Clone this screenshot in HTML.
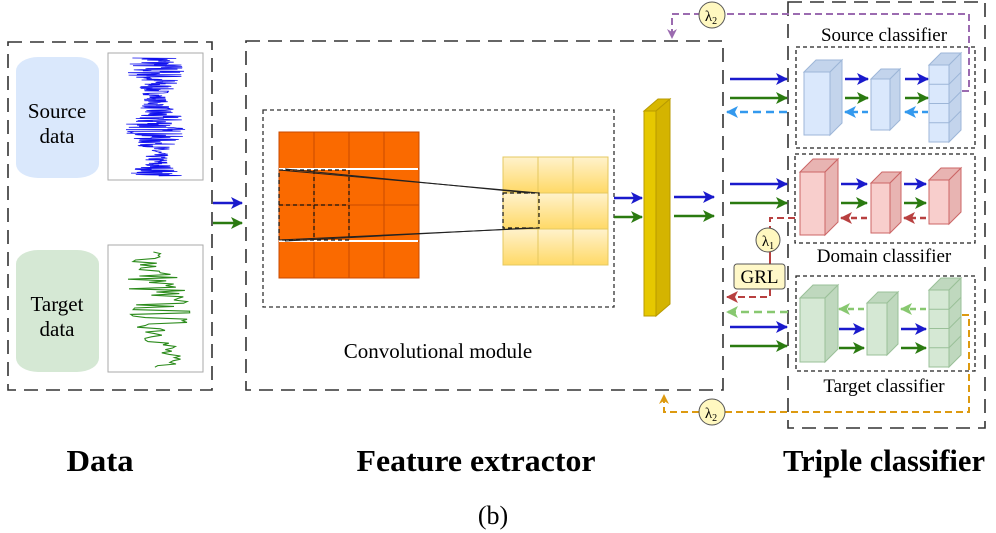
<!DOCTYPE html>
<html><head><meta charset="utf-8"><style>
html,body{margin:0;padding:0;background:#fff;}
svg{display:block;font-family:"Liberation Serif",serif;}
</style></head><body>
<svg id="s" width="996" height="533" viewBox="0 0 996 533" xmlns="http://www.w3.org/2000/svg">
<defs>
<marker id="ab" markerWidth="12" markerHeight="12" refX="11" refY="6" orient="auto" markerUnits="userSpaceOnUse"><path d="M0,0 L12,6 L0,12 L3,6Z" fill="#1a1acc"/></marker>
<marker id="ag" markerWidth="12" markerHeight="12" refX="11" refY="6" orient="auto" markerUnits="userSpaceOnUse"><path d="M0,0 L12,6 L0,12 L3,6Z" fill="#2a7a10"/></marker>
<marker id="alb" markerWidth="12" markerHeight="12" refX="11" refY="6" orient="auto" markerUnits="userSpaceOnUse"><path d="M0,0 L12,6 L0,12 L3,6Z" fill="#3399ee"/></marker>
<marker id="ar" markerWidth="12" markerHeight="12" refX="11" refY="6" orient="auto" markerUnits="userSpaceOnUse"><path d="M0,0 L12,6 L0,12 L3,6Z" fill="#b84040"/></marker>
<marker id="alg" markerWidth="12" markerHeight="12" refX="11" refY="6" orient="auto" markerUnits="userSpaceOnUse"><path d="M0,0 L12,6 L0,12 L3,6Z" fill="#88c870"/></marker>
<marker id="ao" markerWidth="10" markerHeight="10" refX="9" refY="5" orient="auto" markerUnits="userSpaceOnUse"><path d="M0,0 L10,5 L0,10 L3,5Z" fill="#dd9a10"/></marker>
<marker id="ap" markerWidth="10" markerHeight="10" refX="9" refY="5" orient="auto" markerUnits="userSpaceOnUse"><path d="M0,0 L10,5 L0,10 L3,5Z" fill="#9b6bb0"/></marker>
<linearGradient id="yg" x1="0" y1="0" x2="0" y2="1"><stop offset="0" stop-color="#fff2cc"/><stop offset="1" stop-color="#ffd966"/></linearGradient>
</defs>

<g fill="none" stroke="#333" stroke-width="1.6" stroke-dasharray="14,8">
<rect x="8" y="42" width="204" height="348"/>
<rect x="246" y="41" width="477" height="349"/>
<rect x="788" y="2" width="197" height="426"/>
</g>

<rect x="16" y="57" width="83" height="121" rx="22" ry="14" fill="#dae8fc"/>
<rect x="16" y="250" width="83" height="122" rx="22" ry="14" fill="#d5e8d4"/>
<text x="57" y="118" font-size="21" text-anchor="middle">Source</text>
<text x="57" y="143" font-size="21" text-anchor="middle">data</text>
<text x="57" y="311" font-size="21" text-anchor="middle">Target</text>
<text x="57" y="336" font-size="21" text-anchor="middle">data</text>
<rect x="108" y="53" width="95" height="127" fill="#fff" stroke="#aaa"/>
<rect x="108" y="245" width="95" height="127" fill="#fff" stroke="#aaa"/>
<polyline id="sig1" fill="none" stroke="#1010ee" stroke-width="0.8"/>
<polyline id="sig2" fill="none" stroke="#2a8a1a" stroke-width="1.1"/>

<line x1="213" y1="203" x2="242" y2="203" stroke="#1a1acc" stroke-width="2.5" marker-end="url(#ab)"/>
<line x1="213" y1="223" x2="242" y2="223" stroke="#2a7a10" stroke-width="2.5" marker-end="url(#ag)"/>

<rect x="263" y="110" width="351" height="197" fill="none" stroke="#333" stroke-width="1.3" stroke-dasharray="4,3"/>
<g id="orange" fill="#fa6a00" stroke="#c84a00" stroke-width="1"></g>
<line x1="279" y1="169" x2="418" y2="169" stroke="#fff" stroke-width="2"/>
<line x1="279" y1="241" x2="418" y2="241" stroke="#fff" stroke-width="2"/>
<g id="yellow" fill="url(#yg)" stroke="#e6c860" stroke-width="1"></g>
<g fill="none" stroke="#111" stroke-width="1.2" stroke-dasharray="4,3">
<rect x="279" y="170" width="70" height="70"/>
<line x1="314" y1="170" x2="314" y2="240"/><line x1="279" y1="205" x2="349" y2="205"/>
<rect x="503" y="193" width="36" height="35"/>
</g>
<g stroke="#222" stroke-width="1" fill="none">
<line x1="279" y1="170" x2="539" y2="193"/><line x1="285" y1="169" x2="530" y2="193"/>
<line x1="279" y1="240" x2="539" y2="228"/><line x1="285" y1="241" x2="530" y2="228"/>
</g>
<line x1="614" y1="198" x2="642" y2="198" stroke="#1a1acc" stroke-width="2.5" marker-end="url(#ab)"/>
<line x1="614" y1="217" x2="642" y2="217" stroke="#2a7a10" stroke-width="2.5" marker-end="url(#ag)"/>
<path d="M644,111 L656,111 L670,99 L658,99Z" fill="#d8b800" stroke="#b89a00"/>
<path d="M656,111 L670,99 L670,304 L656,316Z" fill="#d4b400" stroke="#b89a00"/>
<rect x="644" y="111" width="12" height="205" fill="#e6c800" stroke="#b89a00"/>
<line x1="674" y1="197" x2="714" y2="197" stroke="#1a1acc" stroke-width="2.5" marker-end="url(#ab)"/>
<line x1="674" y1="216" x2="714" y2="216" stroke="#2a7a10" stroke-width="2.5" marker-end="url(#ag)"/>
<text x="438" y="358" font-size="21" text-anchor="middle">Convolutional module</text>

<text x="884" y="41" font-size="19" text-anchor="middle">Source classifier</text>
<text x="884" y="262" font-size="19" text-anchor="middle">Domain classifier</text>
<text x="884" y="392" font-size="19" text-anchor="middle">Target classifier</text>
<g fill="none" stroke="#222" stroke-width="1.3" stroke-dasharray="4,3">
<rect x="796" y="47" width="179" height="101"/>
<rect x="795" y="154" width="180" height="89"/>
<rect x="796" y="276" width="179" height="95"/>
</g>
<g id="blocks"></g>

<g stroke-width="2.5">
<line x1="730" y1="79" x2="787" y2="79" stroke="#1a1acc" marker-end="url(#ab)"/>
<line x1="730" y1="98" x2="787" y2="98" stroke="#2a7a10" marker-end="url(#ag)"/>
<line x1="787" y1="112" x2="727" y2="112" stroke="#3399ee" stroke-dasharray="8,5" marker-end="url(#alb)"/>
<line x1="730" y1="184" x2="787" y2="184" stroke="#1a1acc" marker-end="url(#ab)"/>
<line x1="730" y1="203" x2="787" y2="203" stroke="#2a7a10" marker-end="url(#ag)"/>
<line x1="788" y1="312" x2="727" y2="312" stroke="#88c870" stroke-dasharray="8,5" marker-end="url(#alg)"/>
<line x1="730" y1="327" x2="787" y2="327" stroke="#1a1acc" marker-end="url(#ab)"/>
<line x1="730" y1="346" x2="787" y2="346" stroke="#2a7a10" marker-end="url(#ag)"/>
</g>
<g stroke-width="2.5" id="inner"></g>

<polyline points="795,218 770,218 770,228" fill="none" stroke="#b84040" stroke-width="2" stroke-dasharray="7,4"/>
<line x1="770" y1="252" x2="770" y2="264" stroke="#b84040" stroke-width="2"/>
<polyline points="770,289 770,297 727,297" fill="none" stroke="#b84040" stroke-width="2" stroke-dasharray="7,4" marker-end="url(#ar)"/>
<circle cx="768" cy="240" r="12" fill="#fff8c0" stroke="#555"/>
<text x="768" y="246" font-size="15" text-anchor="middle">λ<tspan font-size="10" dy="3">1</tspan></text>
<rect x="734" y="264" width="51" height="25" rx="3" fill="#fff8c8" stroke="#555"/>
<text x="759.5" y="283" font-size="19" text-anchor="middle">GRL</text>

<polyline points="962,91 969,91 969,14 672,14 672,38" fill="none" stroke="#9b6bb0" stroke-width="2" stroke-dasharray="7,4" marker-end="url(#ap)"/>
<polyline points="962,315 969,315 969,412 664,412 664,395" fill="none" stroke="#dd9a10" stroke-width="2" stroke-dasharray="7,4" marker-end="url(#ao)"/>
<circle cx="712" cy="15" r="13" fill="#fff8c0" stroke="#555"/>
<text x="711" y="21" font-size="15" text-anchor="middle">λ<tspan font-size="10" dy="3">2</tspan></text>
<circle cx="712" cy="412" r="13" fill="#fff8c0" stroke="#555"/>
<text x="711" y="418" font-size="15" text-anchor="middle">λ<tspan font-size="10" dy="3">2</tspan></text>

<g font-weight="bold" font-size="31" text-anchor="middle">
<text x="100" y="471" textLength="67" lengthAdjust="spacingAndGlyphs">Data</text>
<text x="476" y="471" textLength="239" lengthAdjust="spacingAndGlyphs">Feature extractor</text>
<text x="884" y="471" textLength="202" lengthAdjust="spacingAndGlyphs">Triple classifier</text>
</g>
<text x="493" y="524" font-size="26" text-anchor="middle">(b)</text>
</svg>
<script>
var NS="http://www.w3.org/2000/svg";
function el(p,t,a){var e=document.createElementNS(NS,t);for(var k in a)e.setAttribute(k,a[k]);p.appendChild(e);return e;}
var seed=7;function r(){seed=(seed*16807)%2147483647;return seed/2147483647;}
var p1=[];for(var y=58;y<=176;y+=0.35){var w=22+10*Math.sin(y/9);p1.push((156+(r()-0.5)*2*w).toFixed(1)+","+y.toFixed(1));}
document.getElementById("sig1").setAttribute("points",p1.join(" "));
var p2=[];for(var y=252;y<=368;y+=1.6){var w=14+22*Math.exp(-Math.pow((y-300)/35,2));var c=150+(y-250)*0.15;p2.push((c+(r()-0.5)*2*w).toFixed(1)+","+y.toFixed(1));}
document.getElementById("sig2").setAttribute("points",p2.join(" "));
var o=document.getElementById("orange");
for(var i=0;i<4;i++)for(var j=0;j<4;j++)el(o,"rect",{x:279+j*35,y:132+i*36.5,width:35,height:36.5});
var yl=document.getElementById("yellow");
for(var i=0;i<3;i++)for(var j=0;j<3;j++)el(yl,"rect",{x:503+j*35,y:157+i*36,width:35,height:36});
var b=document.getElementById("blocks");
function box(x,y,w,h,d,f,s,t,cells){
 el(b,"path",{d:"M"+x+","+y+" l"+d+","+(-d)+" h"+w+" l"+(-d)+","+d+"z",fill:t,stroke:s});
 el(b,"path",{d:"M"+(x+w)+","+y+" l"+d+","+(-d)+" v"+h+" l"+(-d)+","+d+"z",fill:t,stroke:s});
 el(b,"rect",{x:x,y:y,width:w,height:h,fill:f,stroke:s});
 if(cells){for(var i=1;i<cells;i++){var yy=y+h*i/cells;el(b,"line",{x1:x,y1:yy,x2:x+w,y2:yy,stroke:s});el(b,"line",{x1:x+w,y1:yy,x2:x+w+d,y2:yy-d,stroke:s});}}
}
box(804,72,26,63,12,"#dae8fc","#9db6d8","#c3d4ec");
box(871,79,19,51,10,"#dae8fc","#9db6d8","#c3d4ec");
box(929,65,20,77,12,"#dae8fc","#9db6d8","#c3d4ec",4);
box(800,172,25,63,13,"#f8cecc","#c66","#e8b4b2");
box(871,183,19,50,11,"#f8cecc","#c66","#e8b4b2");
box(929,180,20,44,12,"#f8cecc","#c66","#e8b4b2");
box(800,298,25,64,13,"#d5e8d4","#9ac098","#bfd8be");
box(867,303,20,52,11,"#d5e8d4","#9ac098","#bfd8be");
box(929,290,20,77,12,"#d5e8d4","#9ac098","#bfd8be",4);
var n=document.getElementById("inner");
function ar(x1,x2,y,c,m,dash){var a={x1:x1,y1:y,x2:x2,y2:y,stroke:c,"marker-end":"url(#"+m+")"};if(dash)a["stroke-dasharray"]="6,4";el(n,"line",a);}
ar(845,868,79,"#1a1acc","ab");ar(845,868,98,"#2a7a10","ag");ar(868,845,112,"#3399ee","alb",1);
ar(905,928,79,"#1a1acc","ab");ar(905,928,98,"#2a7a10","ag");ar(928,905,112,"#3399ee","alb",1);
ar(841,867,184,"#1a1acc","ab");ar(841,867,203,"#2a7a10","ag");ar(867,841,218,"#b84040","ar",1);
ar(904,926,184,"#1a1acc","ab");ar(904,926,203,"#2a7a10","ag");ar(926,904,218,"#b84040","ar",1);
ar(839,864,329,"#1a1acc","ab");ar(839,864,348,"#2a7a10","ag");ar(864,839,309,"#88c870","alg",1);
ar(901,926,329,"#1a1acc","ab");ar(901,926,348,"#2a7a10","ag");ar(926,901,309,"#88c870","alg",1);
</script>
</body></html>
